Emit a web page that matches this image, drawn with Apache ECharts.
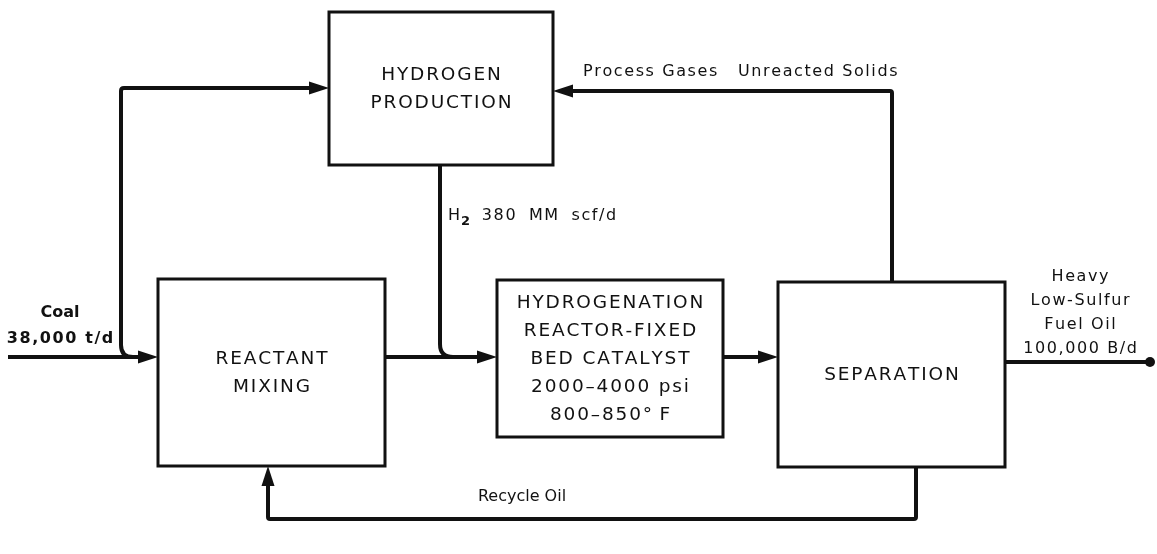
<!DOCTYPE html>
<html>
<head>
<meta charset="utf-8">
<style>html,body{margin:0;padding:0;background:#fff}#chart{width:1157px;height:554px}</style>
<script src="https://cdn.jsdelivr.net/npm/echarts@6/dist/echarts.min.js"></script>
</head>
<body>
<div id="chart"></div>
<script>
// process blocks, in drawing units (x right, y down)
var boxLabels = ['HYDROGEN\nPRODUCTION', 'REACTANT\nMIXING',
  'HYDROGENATION\nREACTOR-FIXED\nBED CATALYST\n2000–4000 psi\n800–850°\u2009F', 'SEPARATION'];
var boxLeft = [329, 158, 497, 778];
var boxTop = [12, 279, 280, 282];
var boxRight = [553, 385, 723, 1005];
var boxBottom = [165, 466, 437, 467];

// streams between blocks
var flowPoints = [
  [[8, 357], [158, 357]],                           // coal feed
  [[134, 357], [121, 357], [121, 88], [329, 88]],   // coal to hydrogen plant
  [[385, 357], [497, 357]],                         // mixed feed
  [[440, 165], [440, 357], [454, 357]],             // hydrogen
  [[723, 357], [778, 357]],                         // reactor effluent
  [[892, 282], [892, 91], [553, 91]],               // gases + solids
  [[1005, 362], [1150, 362]],                       // product
  [[916, 467], [916, 519], [268, 519], [268, 466]]  // recycle oil
];
var flowEnd = ['arrow', 'arrow', 'arrow', 'none', 'arrow', 'arrow', 'dot', 'arrow'];
var flowRadius = [[], [12, 3], [], [13], [], [2], [], [2, 2]];

// stream labels
var noteText = ['Coal', '38,000 t/d', 'H2 380 MM scf/d', 'Process Gases', 'Unreacted Solids',
  'Heavy\nLow-Sulfur\nFuel Oil\n100,000 B/d', 'Recycle Oil'];
var noteX = [60, 60, 448, 583, 738, 1080, 522];
var noteY = [313, 339, 216, 72, 72, 313, 497];
var noteAlign = ['center', 'center', 'left', 'left', 'left', 'center', 'center'];
var noteBold = [true, true, false, false, false, false, false];
var noteTracked = [false, true, true, true, true, true, false];

var FONT = '"DejaVu Sans", sans-serif';
var INK = '#111';

// the original lettering is widely tracked: put a hair space between letters
function track(s) {
  return s.split('\n').map(function (line) { return line.split('').join('\u200A'); }).join('\n');
}

var myChart = echarts.init(document.getElementById('chart'));

function boxItem(params, api) {
  var p0 = api.coord([api.value(0), api.value(1)]);
  var p1 = api.coord([api.value(2), api.value(3)]);
  var i = params.dataIndex;
  return {
    type: 'group',
    children: [{
      type: 'rect',
      shape: { x: p0[0], y: p0[1], width: p1[0] - p0[0], height: p1[1] - p0[1] },
      style: { fill: '#fff', stroke: INK, lineWidth: 3 }
    }, {
      type: 'text',
      style: {
        text: track(boxLabels[i]), x: (p0[0] + p1[0]) / 2, y: (p0[1] + p1[1]) / 2 + 1,
        align: 'center', verticalAlign: 'middle', fontFamily: FONT, fontSize: 18.5,
        lineHeight: 28, fill: INK
      }
    }]
  };
}

function flowItem(params, api) {
  var i = params.dataIndex;
  var pts = flowPoints[i].map(function (p) { return api.coord(p); });
  var n = pts.length, end = flowEnd[i];
  var last = pts[n - 1], prev = pts[n - 2];
  var dx = last[0] - prev[0], dy = last[1] - prev[1];
  var len = Math.sqrt(dx * dx + dy * dy);
  var ux = dx / len, uy = dy / len;
  var aL = 20, aW = 6.5;
  var stop = end === 'arrow' ? [last[0] - ux * (aL - 2), last[1] - uy * (aL - 2)] : last;
  var d = 'M' + pts[0][0] + ' ' + pts[0][1];
  for (var k = 1; k < n - 1; k++) {
    var r = flowRadius[i][k - 1] || 0;
    var a = pts[k - 1], c = pts[k], b = pts[k + 1];
    var l1 = Math.hypot(c[0] - a[0], c[1] - a[1]), l2 = Math.hypot(b[0] - c[0], b[1] - c[1]);
    var s = [c[0] - (c[0] - a[0]) / l1 * r, c[1] - (c[1] - a[1]) / l1 * r];
    var e = [c[0] + (b[0] - c[0]) / l2 * r, c[1] + (b[1] - c[1]) / l2 * r];
    d += ' L' + s[0] + ' ' + s[1] + ' Q' + c[0] + ' ' + c[1] + ' ' + e[0] + ' ' + e[1];
  }
  d += ' L' + stop[0] + ' ' + stop[1];
  var children = [{
    type: 'path',
    shape: { pathData: d },
    style: { fill: null, stroke: INK, lineWidth: 4, lineJoin: 'round' }
  }];
  if (end === 'arrow') {
    var bx = last[0] - ux * aL, by = last[1] - uy * aL;
    children.push({
      type: 'polygon',
      shape: { points: [last, [bx - uy * aW, by + ux * aW], [bx + uy * aW, by - ux * aW]] },
      style: { fill: INK }
    });
  } else if (end === 'dot') {
    children.push({ type: 'circle', shape: { cx: last[0], cy: last[1], r: 5 }, style: { fill: INK } });
  }
  return { type: 'group', children: children };
}

function noteItem(params, api) {
  var i = params.dataIndex;
  var p = api.coord([api.value(0), api.value(1)]);
  var txt = noteText[i];
  if (txt.indexOf('H2 ') === 0) {
    // hydrogen label with subscript
    txt = '{h|H}{s|2}{h|' + track(txt.slice(2)).replace(/ /g, '  ') + '}';
  } else if (noteTracked[i]) {
    txt = track(txt);
  }
  return {
    type: 'text',
    style: {
      text: txt, x: p[0], y: p[1], align: noteAlign[i], verticalAlign: 'middle',
      fontFamily: FONT, fontSize: 16, fontWeight: noteBold[i] ? 'bold' : 'normal',
      lineHeight: 24, fill: INK,
      rich: {
        h: { fontFamily: FONT, fontSize: 16, fill: INK },
        s: { fontFamily: FONT, fontSize: 13, fontWeight: 'bold', fill: INK, padding: [12, 0, 0, 1] }
      }
    }
  };
}

var option = {
  animation: false,
  grid: { left: 0, right: 0, top: 0, bottom: 0 },
  xAxis: { type: 'value', min: 0, max: 1157, show: false },
  yAxis: { type: 'value', min: 0, max: 554, inverse: true, show: false },
  series: [{
    type: 'custom',
    name: 'streams',
    renderItem: flowItem,
    data: flowPoints.map(function (p, i) { return [p[0][0], p[0][1], i]; })
  }, {
    type: 'custom',
    name: 'blocks',
    renderItem: boxItem,
    encode: { x: [0, 2], y: [1, 3] },
    data: boxLabels.map(function (t, i) { return [boxLeft[i], boxTop[i], boxRight[i], boxBottom[i]]; })
  }, {
    type: 'custom',
    name: 'labels',
    renderItem: noteItem,
    data: noteText.map(function (t, i) { return [noteX[i], noteY[i]]; })
  }]
};

myChart.setOption(option);
</script>
</body>
</html>
